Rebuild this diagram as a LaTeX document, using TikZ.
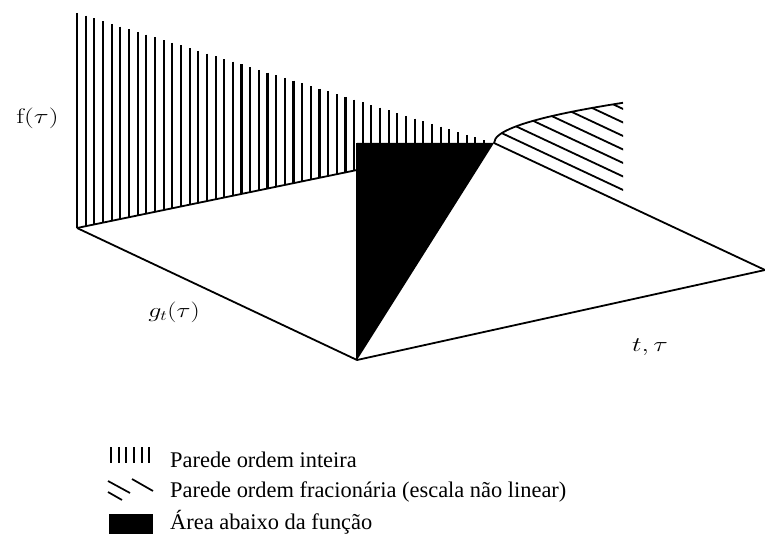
\documentclass[tikz,border=0pt]{standalone}
\usepackage{fontspec}
\newfontfamily\legendfont{Liberation Serif}
\tikzset{
  hatchline/.style={line width=2.1pt},
  edgeline/.style={line width=1.8pt, line join=round},
  axislabel/.style={inner sep=0pt, font=\fontsize{21}{25}\selectfont},
  legendtext/.style={anchor=base west, inner sep=0pt, font=\legendfont\fontsize{22.4}{26}\selectfont},
}
\begin{document}
\begin{tikzpicture}[x=1pt,y=-1pt]
\useasboundingbox (0,0) rectangle (765,540);
% key points
\coordinate (O) at (77,228);
\coordinate (B) at (357,170);
\coordinate (C) at (357,143);
\coordinate (A) at (494,143);
\coordinate (P) at (357,360);
\coordinate (R) at (765,270);
\coordinate (T) at (623,103);
% black area
\fill (C) -- (A) -- (P) -- cycle;
% integer-order wall: vertical hatching
\foreach \i in {0,...,47} {
  \pgfmathsetmacro\xx{77+8.66*\i}
  \pgfmathsetmacro\yt{13+(\xx-77)*0.3125}
  \pgfmathsetmacro\yb{\xx<357 ? 228-(\xx-77)*(58/280) : 143}
  \draw[hatchline] (\xx,\yt) -- (\xx,\yb);
}
% fractional-order wall: diagonal hatching
\begin{scope}
  \clip plot[domain=0:129,samples=80] ({494+\x},{143-3.54*sqrt(\x)}) -- (623,103) -- (623,204) -- cycle;
  \foreach \k in {1,...,8}
    \draw[hatchline, line width=1.8pt] (480,{143+(480-494)*0.4686-13.5*\k}) -- (640,{143+(640-494)*0.4686-13.5*\k});
\end{scope}
\draw[edgeline] plot[domain=0:129,samples=80] ({494+\x},{143-3.54*sqrt(\x)});
% floor edges
\draw[edgeline] (O) -- (B);
\draw[edgeline] (O) -- (P);
\draw[edgeline] (P) -- (R);
\draw[edgeline] (A) -- (R);
\draw[edgeline] (C) -- (P);
% axis labels
\node[axislabel] (flab) at (37.5,118) {\scalebox{1.33}[1]{$\mathrm{f}(\tau)$}};
\node[axislabel] (glab) at (174,312) {\scalebox{1.25}[1]{$g_t(\tau)$}};
\node[axislabel] (tlab) at (650,347) {\scalebox{1.3}[1]{$t,\tau$}};
% legend
\foreach \x in {111,118.7,126.3,134,141.7,149.3}
  \draw[line width=2pt] (\x,447) -- (\x,463);
\draw[line width=1.7pt] (108,481) -- (130,493);
\draw[line width=1.7pt] (132,479) -- (153,491);
\draw[line width=1.7pt] (108,492) -- (122,500);
\fill (109,514) rectangle (153,534);
\node[legendtext] (leg1) at (170,467) {Parede ordem inteira};
\node[legendtext] (leg2) at (170,497) {Parede ordem fracionária (escala não linear)};
\node[legendtext] (leg3) at (170,529) {Área abaixo da função};
\end{tikzpicture}
\end{document}
